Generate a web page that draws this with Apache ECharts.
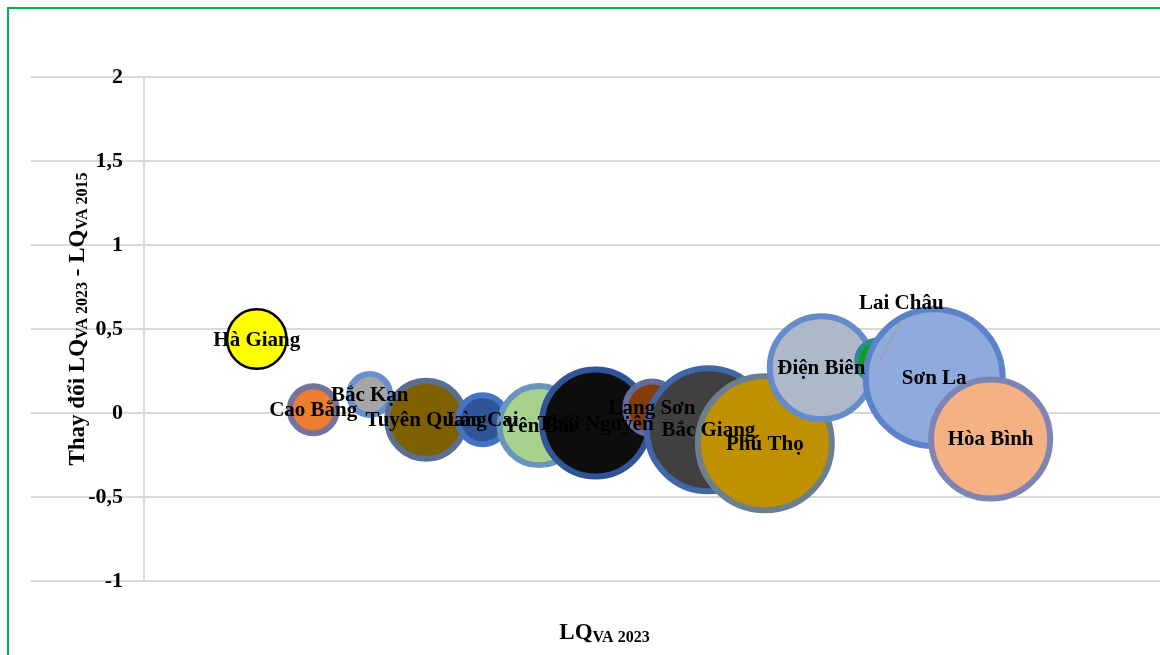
<!DOCTYPE html>
<html>
<head>
<meta charset="utf-8">
<script src="https://cdn.jsdelivr.net/npm/echarts@6/dist/echarts.min.js"></script>
<style>
  html, body { margin: 0; padding: 0; background: #fff; overflow: hidden; }
  #wrap { position: relative; width: 1160px; height: 655px; overflow: hidden; }
  #frame { position: absolute; left: 7px; top: 7px; width: 1300px; height: 800px; border: 2px solid #00B050; box-sizing: border-box; pointer-events: none; }
  #chart { position: absolute; left: 0; top: 0; width: 1160px; height: 655px; }
</style>
</head>
<body>
<div id="wrap">
  <div id="chart"></div>
  <div id="frame"></div>
</div>
<script>
// ---- data ----
const categories = ['Hà Giang','Cao Bằng','Bắc Kạn','Tuyên Quang','Lào Cai','Yên Bái','Thái Nguyên','Lạng Sơn','Bắc Giang','Phú Thọ','Điện Biên','Lai Châu','Sơn La','Hòa Bình'];
const xValues = [1, 2, 3, 4, 5, 6, 7, 8, 9, 10, 11, 12, 13, 14];
const yValues = [0.44, 0.02, 0.11, -0.04, -0.04, -0.075, -0.06, 0.03, -0.10, -0.18, 0.27, 0.31, 0.21, -0.155];
const bubbleSizes = [26.7, 19.5, 15.3, 49, 21, 50.2, 88.7, 24.2, 115.6, 136, 82.5, 15.3, 142, 108.5];
const calloutCategory = 'Lai Châu';

// ---- styles ----
const fillColors = ['#FFFF00','#ED7D31','#A5A5A5','#7F6000','#2F5597','#A9D18E','#0D0D0D','#843C0C','#404040','#BF9000','#ADB9CA','#0AA01A','#8FAADC','#F4B183'];
const borderColors = ['#000000','#75739E','#6A8FCD','#5A7090','#4472C4','#6894BE','#2F5597','#636B9A','#4267A8','#6C7F8D','#668BCB','#2E8B8C','#5B83CC','#7E85B5'];
const borderWidths = [2.5, 6, 6, 6, 6, 6, 6, 6, 6, 6, 6, 5, 6, 6];
const SIZE_K = 12;
const FONT = '"Liberation Serif", "Times New Roman", serif';

const bubbleData = categories.map((name, i) => ({
  name: name,
  value: [xValues[i], yValues[i], bubbleSizes[i]],
  symbolSize: SIZE_K * Math.sqrt(bubbleSizes[i]) - borderWidths[i],
  itemStyle: { color: fillColors[i], borderColor: borderColors[i], borderWidth: borderWidths[i], opacity: 1 }
}));

const labelData = categories.map((name, i) => ({ name: name, value: [xValues[i], yValues[i]] }));
const calloutIdx = categories.indexOf(calloutCategory);
const calloutData = [{ name: calloutCategory, value: [xValues[calloutIdx], yValues[calloutIdx]] }];

const subStyle = { fontFamily: FONT, fontWeight: 'bold', fontSize: 16, color: '#000', verticalAlign: 'bottom', lineHeight: 18 };

const chart = echarts.init(document.getElementById('chart'), null, { renderer: 'canvas' });
chart.setOption({
  animation: false,
  backgroundColor: 'transparent',
  grid: { left: 31, top: 77, width: 1132, bottom: 74, containLabel: false },
  xAxis: {
    type: 'value', min: -3, max: 17,
    axisLine: { show: false, onZero: false },
    axisTick: { show: false },
    axisLabel: { show: false },
    splitLine: { show: false },
    name: 'LQ{sub|VA 2023}',
    nameLocation: 'middle',
    nameGap: 39,
    nameMoveOverlap: false,
    nameTextStyle: {
      fontFamily: FONT, fontWeight: 'bold', fontSize: 23, color: '#000', padding: [0, 0, 0, 18],
      lineHeight: 26,
      rich: { sub: subStyle }
    }
  },
  yAxis: {
    type: 'value', min: -1, max: 2, interval: 0.5,
    offset: -113,
    axisLine: { show: true, onZero: false, lineStyle: { color: '#D9D9D9', width: 2 } },
    axisTick: { show: false },
    axisLabel: {
      margin: 21, fontFamily: FONT, fontWeight: 'bold', fontSize: 22, color: '#000',
      formatter: v => String(v).replace('.', ',')
    },
    splitLine: { show: true, lineStyle: { color: '#D9D9D9', width: 2 } },
    name: 'Thay đổi LQ{sub|VA 2023} - LQ{sub|VA 2015}',
    nameLocation: 'middle',
    nameGap: 53,
    nameMoveOverlap: false,
    nameRotate: 90,
    nameTextStyle: {
      fontFamily: FONT, fontWeight: 'bold', fontSize: 23, color: '#000', padding: [0, 0, 0, 20],
      lineHeight: 26,
      rich: { sub: subStyle }
    }
  },
  series: [
    {
      type: 'scatter', z: 2,
      data: bubbleData,
      label: { show: false },
      emphasis: { disabled: true }
    },
    {
      type: 'scatter', z: 3, zlevel: 1,
      data: labelData,
      symbolSize: 1,
      itemStyle: { color: 'rgba(0,0,0,0)', opacity: 1 },
      label: {
        show: true, position: 'inside', offset: [0, 1],
        formatter: p => (p.name === calloutCategory ? '' : p.name),
        fontFamily: FONT, fontWeight: 'bold', fontSize: 21, color: '#000', opacity: 1
      },
      emphasis: { disabled: true }
    },
    {
      type: 'custom', z: 4, zlevel: 1,
      data: calloutData,
      clip: false,
      renderItem: function (params, api) {
        const p = api.coord([api.value(0), api.value(1)]);
        return {
          type: 'group',
          children: [
            { type: 'line', shape: { x1: p[0] + 1.5, y1: p[1] + 1.5, x2: p[0] + 23.5, y2: p[1] - 40.5 },
              style: { stroke: '#A0A0A0', lineWidth: 1.5, fill: null } },
            { type: 'text', style: { text: calloutData[params.dataIndex].name, x: p[0] + 23.5, y: p[1] - 57,
              align: 'center', verticalAlign: 'middle', font: 'bold 21px ' + FONT, fill: '#000' } }
          ]
        };
      }
    }
  ]
});
</script>
</body>
</html>
